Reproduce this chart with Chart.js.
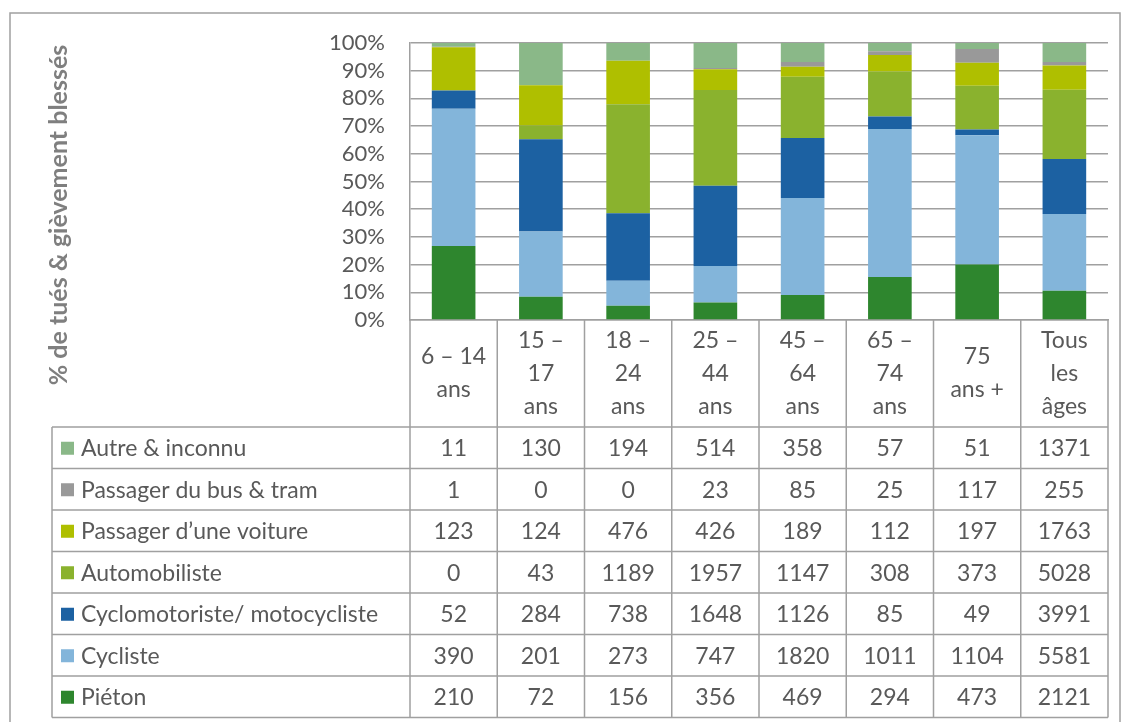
<!DOCTYPE html>
<html>
<head>
<meta charset="utf-8">
<script src="https://cdn.jsdelivr.net/npm/chart.js@4"></script>
<style>
  html, body { margin: 0; padding: 0; background: #fff; }
  #wrap { width: 1122px; height: 722px; }
</style>
</head>
<body>
<div id="wrap"><canvas id="chart" width="1122" height="722"></canvas></div>
<script>
const categories = [
  ['6 – 14', 'ans'], ['15 –', '17', 'ans'], ['18 –', '24', 'ans'], ['25 –', '44', 'ans'],
  ['45 –', '64', 'ans'], ['65 –', '74', 'ans'], ['75', 'ans +'], ['Tous', 'les', 'âges']
];

// counts per age group
const pieton   = [210, 72, 156, 356, 469, 294, 473, 2121];
const cycliste = [390, 201, 273, 747, 1820, 1011, 1104, 5581];
const cyclo    = [52, 284, 738, 1648, 1126, 85, 49, 3991];
const auto     = [0, 43, 1189, 1957, 1147, 308, 373, 5028];
const passager = [123, 124, 476, 426, 189, 112, 197, 1763];
const bus      = [1, 0, 0, 23, 85, 25, 117, 255];
const autre    = [11, 130, 194, 514, 358, 57, 51, 1371];

const yTicks = [0, 10, 20, 30, 40, 50, 60, 70, 80, 90, 100];

// bottom -> top of the stack
const series = [
  { name: 'Piéton', data: pieton, color: '#2e862e' },
  { name: 'Cycliste', data: cycliste, color: '#83b5da' },
  { name: 'Cyclomotoriste/ motocycliste', data: cyclo, color: '#1c61a2' },
  { name: 'Automobiliste', data: auto, color: '#8ab22e' },
  { name: 'Passager d’une voiture', data: passager, color: '#afbf00' },
  { name: 'Passager du bus & tram', data: bus, color: '#999999' },
  { name: 'Autre & inconnu', data: autre, color: '#8ab888' }
];

const totals = categories.map((c, i) => series.reduce((s, d) => s + d.data[i], 0));

const FONT = 'Lato, "Open Sans", sans-serif';
const TEXT = '#595959';
const LINE = '#a0a0a0';

const tablePlugin = {
  id: 'dataTable',
  afterDraw(chart) {
    const ctx = chart.ctx;
    const xs = chart.scales.x;
    const area = chart.chartArea;
    const step = xs.getPixelForValue(1) - xs.getPixelForValue(0);
    const left = area.left, right = area.right;
    const top = area.bottom;
    const headH = 107, rowH = 41.5;
    const legLeft = 52;
    const rowsTop = top + headH;
    const rows = series.slice().reverse();
    const bottom = rowsTop + rows.length * rowH;

    ctx.save();
    ctx.strokeStyle = LINE;
    ctx.lineWidth = 1.5;

    // outer frame
    ctx.strokeRect(10, 13, 1110, 740);

    // horizontal lines of the table
    ctx.beginPath();
    for (let r = 0; r <= rows.length; r++) {
      const y = rowsTop + r * rowH;
      ctx.moveTo(legLeft, y); ctx.lineTo(right, y);
    }
    // vertical lines
    for (let i = 0; i <= categories.length; i++) {
      const x = left + i * step;
      ctx.moveTo(x, top); ctx.lineTo(x, bottom);
    }
    ctx.moveTo(legLeft, rowsTop); ctx.lineTo(legLeft, bottom);
    ctx.stroke();

    ctx.fillStyle = TEXT;
    ctx.font = '23px ' + FONT;
    ctx.textAlign = 'center';
    ctx.textBaseline = 'middle';

    // header: category labels
    categories.forEach((lines, i) => {
      const cx = xs.getPixelForValue(i);
      const lh = 33;
      const y0 = top + headH / 2 - (lines.length - 1) * lh / 2;
      lines.forEach((t, k) => ctx.fillText(t, cx, y0 + k * lh));
    });

    // rows
    rows.forEach((s, r) => {
      const cy = rowsTop + r * rowH + rowH / 2 + 1;
      ctx.fillStyle = s.color;
      ctx.fillRect(61, cy - 7, 13, 13);
      ctx.fillStyle = TEXT;
      ctx.textAlign = 'left';
      ctx.fillText(s.name, 81, cy);
      ctx.textAlign = 'center';
      s.data.forEach((v, i) => ctx.fillText(String(v), xs.getPixelForValue(i), cy));
    });

    // y axis title
    ctx.translate(59, 215);
    ctx.rotate(-Math.PI / 2);
    ctx.fillStyle = '#7f7f7f';
    ctx.font = 'bold 25px ' + FONT;
    ctx.textAlign = 'center';
    ctx.fillText('% de tués & gièvement blessés', 0, 0);
    ctx.restore();
  }
};

new Chart(document.getElementById('chart'), {
  type: 'bar',
  data: {
    labels: categories.map(c => c.join(' ')),
    datasets: series.map(s => ({
      label: s.name,
      data: s.data.map((v, i) => v / totals[i] * 100),
      backgroundColor: s.color,
      borderWidth: 0,
      barPercentage: 0.5,
      categoryPercentage: 1
    }))
  },
  options: {
    responsive: false,
    devicePixelRatio: 1,
    animation: false,
    layout: { padding: { left: 0, right: 14, top: 43, bottom: 0 } },
    plugins: { legend: { display: false }, tooltip: { enabled: false } },
    scales: {
      x: {
        stacked: true,
        grid: { display: false, drawTicks: false },
        border: { color: LINE, width: 1.5 },
        ticks: { display: false },
        afterFit(scale) { scale.height = 402; }
      },
      y: {
        stacked: true,
        min: 0,
        max: 100,
        afterBuildTicks(scale) { scale.ticks = yTicks.map(v => ({ value: v })); },
        grid: { color: LINE, lineWidth: 1.5, drawTicks: false },
        border: { color: LINE, width: 1.5 },
        ticks: {
          autoSkip: false,
          padding: 25,
          color: TEXT,
          font: { family: FONT, size: 22 },
          callback: v => v + '%'
        },
        afterFit(scale) { scale.width = 410; }
      }
    }
  },
  plugins: [tablePlugin]
});
</script>
</body>
</html>
